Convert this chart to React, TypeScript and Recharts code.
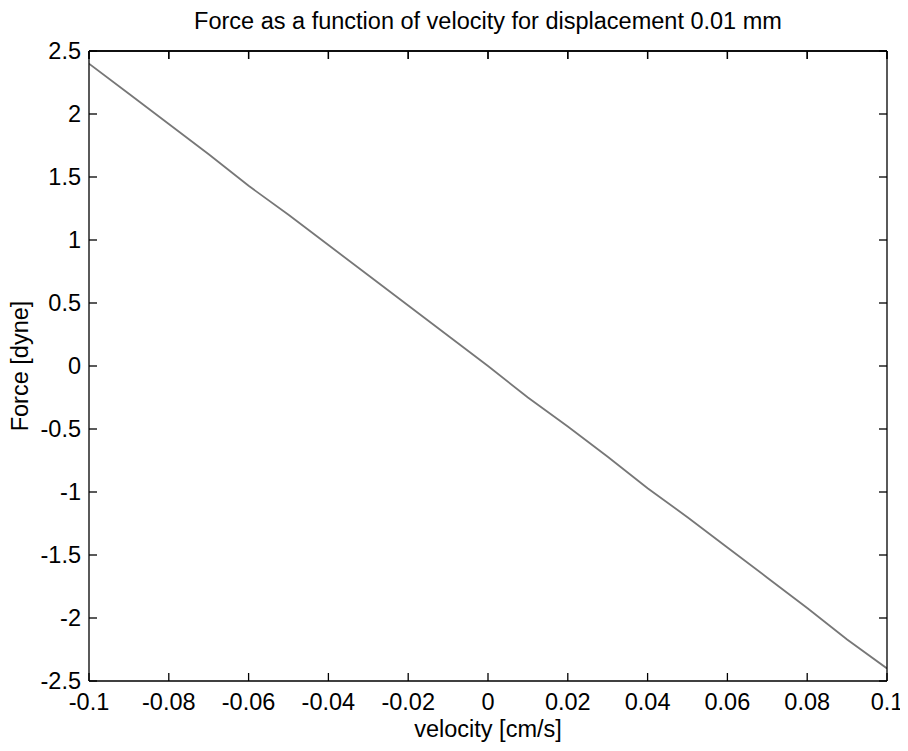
import React from 'react';
import { LineChart, Line, XAxis, YAxis, Label } from 'recharts';

const velocity = [-0.1, -0.09, -0.08, -0.07, -0.06, -0.05, -0.04, -0.03, -0.02, -0.01, 0, 0.01, 0.02, 0.03, 0.04, 0.05, 0.06, 0.07, 0.08, 0.09, 0.1];
const force = [2.40, 2.16, 1.92, 1.68, 1.43, 1.20, 0.96, 0.72, 0.48, 0.24, 0.0, -0.25, -0.48, -0.72, -0.97, -1.20, -1.44, -1.68, -1.92, -2.17, -2.40];
const xTicks = [-0.1, -0.08, -0.06, -0.04, -0.02, 0, 0.02, 0.04, 0.06, 0.08, 0.1];
const yTicks = [-2.5, -2, -1.5, -1, -0.5, 0, 0.5, 1, 1.5, 2, 2.5];

const data = velocity.map((v, i) => ({ v, f: force[i] }));

const FONT = '"Liberation Sans", Arial, Helvetica, sans-serif';
const FS = 23.5;
const fmt = (n: number) => String(Number(n.toFixed(3)));
const tickStyle = { fill: '#000', fontSize: FS, fontFamily: FONT };
const axisStroke = { stroke: '#000', strokeWidth: 1.3 };
const NoLabel = () => <g />;

export default function App() {
  return (
    <div style={{ width: 900, height: 743, position: 'relative' }}>
      <LineChart width={900} height={743} data={data} margin={{ top: 13, right: 20, bottom: 0, left: 0 }}>
        <XAxis
          dataKey="v"
          type="number"
          domain={[-0.1, 0.1]}
          ticks={xTicks}
          interval={0}
          allowDataOverflow
          tickFormatter={fmt}
          tickSize={-8}
          tickMargin={20}
          height={70}
          tick={tickStyle}
          axisLine={axisStroke}
          tickLine={axisStroke}
        >
          <Label
            value="velocity [cm/s]"
            position="insideBottom"
            offset={14}
            style={{ fill: '#000', fontSize: FS, fontFamily: FONT }}
          />
        </XAxis>
        <XAxis
          xAxisId="top"
          dataKey="v"
          orientation="top"
          type="number"
          domain={[-0.1, 0.1]}
          ticks={xTicks}
          interval={0}
          allowDataOverflow
          tickSize={-8}
          height={30}
          tick={NoLabel}
          axisLine={axisStroke}
          tickLine={axisStroke}
        >
          <Label
            value="Force as a function of velocity for displacement 0.01 mm"
            position="insideTop"
            offset={-9}
            style={{ fill: '#000', fontSize: FS, fontFamily: FONT }}
          />
        </XAxis>
        <YAxis
          type="number"
          domain={[-2.5, 2.5]}
          ticks={yTicks}
          interval={0}
          allowDataOverflow
          tickFormatter={fmt}
          tickSize={-8}
          tickMargin={16}
          width={81}
          tick={tickStyle}
          axisLine={axisStroke}
          tickLine={axisStroke}
        >
          <Label
            content={({ viewBox }: any) => {
              const cy = viewBox.y + viewBox.height / 2;
              const cx = 12;
              return (
                <text
                  x={cx}
                  y={cy}
                  transform={`rotate(-90, ${cx}, ${cy})`}
                  textAnchor="middle"
                  dominantBaseline="central"
                  style={{ fill: '#000', fontSize: FS, fontFamily: FONT }}
                >
                  Force [dyne]
                </text>
              );
            }}
          />
        </YAxis>
        <YAxis
          yAxisId="right"
          orientation="right"
          type="number"
          domain={[-2.5, 2.5]}
          ticks={yTicks}
          interval={0}
          allowDataOverflow
          tickSize={-8}
          width={1}
          tick={NoLabel}
          axisLine={axisStroke}
          tickLine={axisStroke}
        />
        <Line
          type="linear"
          dataKey="f"
          stroke="#777777"
          strokeWidth={1.8}
          dot={false}
          isAnimationActive={false}
        />
      </LineChart>
      <div style={{ position: 'absolute', left: 0, top: 0, pointerEvents: 'none' }}>
        <LineChart width={900} height={60} data={data} margin={{ top: 0, right: 21, bottom: 16, left: 81 }}>
          <XAxis
            dataKey="v"
            type="number"
            domain={[-0.1, 0.1]}
            ticks={xTicks}
            interval={0}
            allowDataOverflow
            tickSize={8}
            height={1}
            tick={NoLabel}
            axisLine={axisStroke}
            tickLine={axisStroke}
          />
          <YAxis hide type="number" domain={[-2.5, 2.5]} allowDataOverflow />
          <Line
            type="linear"
            dataKey="f"
            stroke="none"
            dot={false}
            activeDot={false}
            isAnimationActive={false}
          />
        </LineChart>
      </div>
    </div>
  );
}
